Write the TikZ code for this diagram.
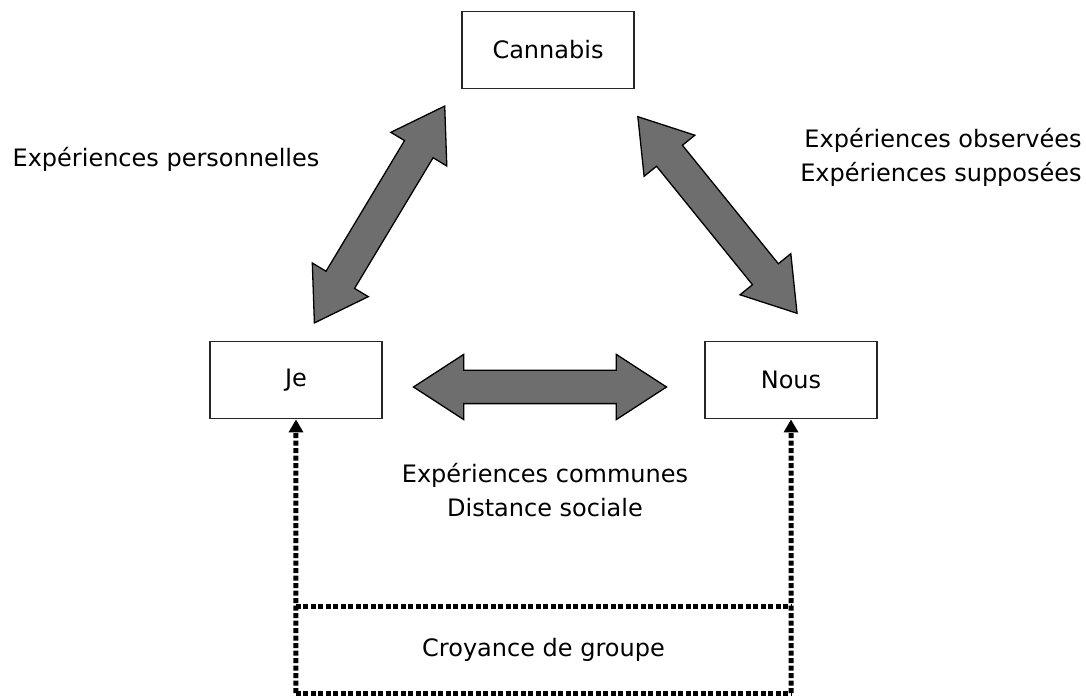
\documentclass[tikz,border=0pt]{standalone}
\usepackage{fontspec}
\setmainfont{DejaVu Sans}
\usepackage{tikz}
\usetikzlibrary{arrows.meta}
\usetikzlibrary{shapes.arrows}
\usetikzlibrary{calc}
\tikzstyle{entity}=[draw=black!85,line width=1.8pt,rectangle,minimum width=172pt,minimum height=77pt,inner sep=1pt]
\tikzstyle{bigarrow}=[double arrow,draw=black,line width=1.3pt,fill=black!57,minimum height=253pt,minimum width=65pt,double arrow head extend=16pt,double arrow tip angle=66,inner xsep=0pt,inner ysep=16pt]
\tikzstyle{dotline}=[line width=5pt,dash pattern=on 5pt off 2.5pt]
\tikzstyle{note}=[align=center,inner sep=0pt]

\begin{document}
\begin{tikzpicture}[x=1pt,y=1pt,font=\fontsize{24}{34}\selectfont]
\useasboundingbox (0,0) rectangle (1086,696);
    \node [entity] (cannabis) at (548,646) {Cannabis};
    \node [entity] (je) at (296,316) {Je};
    \node [entity] (nous) at (791,316) {Nous};
    \node [minimum width=495pt,minimum height=86pt,inner sep=0pt] (grp) at (543.5,46) {Croyance de groupe};

% grosses fleches
\node [bigarrow,rotate=59] (ajc) at ($(je.north)!0.5!(cannabis.south west)+(1,0.5)$) {};
\node [bigarrow,rotate=129] (anc) at ($(nous.north)!0.5!(cannabis.south east)+(4.5,0)$) {};
\node [bigarrow] (ajn) at ($(je)!0.5!(nous)+(-3.5,-7)$) {};

\node [note] (t1) at (166,537) {Expériences personnelles};
\node [note,align=right] (t2) at (941,539) {Expériences observées\\Expériences supposées};
\node [note] (t3) at (545,206) {Expériences communes\\Distance sociale};

% croyance de groupe
\draw[dotline] (grp.north west) -- (grp.north east);
\draw[dotline] (grp.south west) -- (grp.south east);
\draw[dotline,-{Triangle[width=14pt,length=13pt]}] (grp.south west) -- (je.south);
\draw[dotline,-{Triangle[width=14pt,length=13pt]}] (grp.south east) -- (nous.south);
\end{tikzpicture}
\end{document}
